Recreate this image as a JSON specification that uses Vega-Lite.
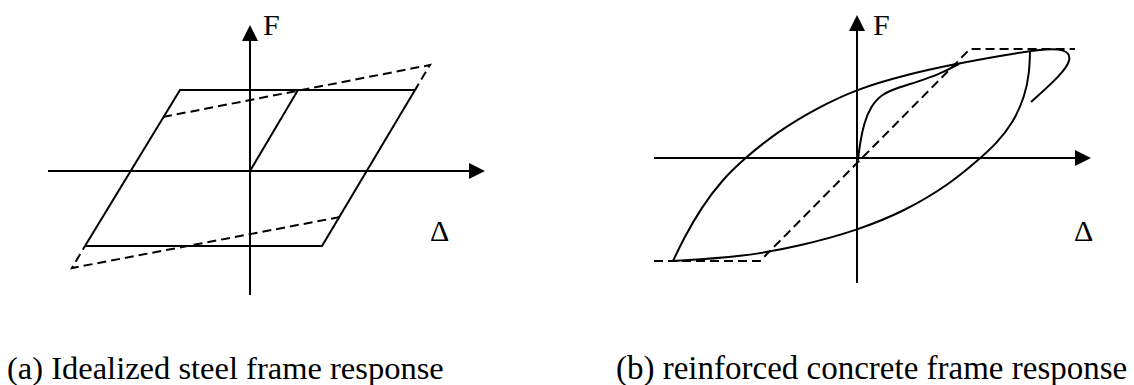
{
  "$schema": "https://vega.github.io/schema/vega-lite/v6.json",
  "background": "white",
  "padding": {"left": 5, "top": 10, "right": 0, "bottom": 0},
  "spacing": 121,
  "config": {
    "view": {"stroke": null},
    "title": {"font": "Liberation Serif", "fontSize": 33, "fontWeight": "normal", "color": "black", "orient": "bottom", "anchor": "start", "baseline": "top", "offset": 51}
  },
  "datasets": {
    "steel": [
      {"part": "axisX", "style": "solid", "i": 0, "d": -20.2, "f": 0},
      {"part": "axisX", "style": "solid", "i": 1, "d": 23.0, "f": 0},
      {"part": "axisY", "style": "solid", "i": 0, "d": 0, "f": -12.4},
      {"part": "axisY", "style": "solid", "i": 1, "d": 0, "f": 14.0},
      {"part": "loop", "style": "solid", "i": 0, "d": -16.5, "f": -7.5},
      {"part": "loop", "style": "solid", "i": 1, "d": -7.0, "f": 8.1},
      {"part": "loop", "style": "solid", "i": 2, "d": 16.5, "f": 8.1},
      {"part": "loop", "style": "solid", "i": 3, "d": 7.2, "f": -7.5},
      {"part": "loop", "style": "solid", "i": 4, "d": -16.5, "f": -7.5},
      {"part": "initial", "style": "solid", "i": 0, "d": 0, "f": 0},
      {"part": "initial", "style": "solid", "i": 1, "d": 4.8, "f": 8.1},
      {"part": "upper", "style": "dashed", "i": 0, "d": -8.7, "f": 5.4},
      {"part": "upper", "style": "dashed", "i": 1, "d": 18.0, "f": 10.6},
      {"part": "upper", "style": "dashed", "i": 2, "d": 16.5, "f": 8.1},
      {"part": "lower", "style": "dashed", "i": 0, "d": 9.0, "f": -4.6},
      {"part": "lower", "style": "dashed", "i": 1, "d": -17.8, "f": -9.7},
      {"part": "lower", "style": "dashed", "i": 2, "d": -16.5, "f": -7.5}
    ],
    "concrete": [
      {"part": "axisX", "shape": "straight", "style": "solid", "i": 0, "d": -20.3, "f": 0},
      {"part": "axisX", "shape": "straight", "style": "solid", "i": 1, "d": 22.8, "f": 0},
      {"part": "axisY", "shape": "straight", "style": "solid", "i": 0, "d": 0, "f": -12.5},
      {"part": "axisY", "shape": "straight", "style": "solid", "i": 1, "d": 0, "f": 13.8},
      {"part": "bilinear", "shape": "straight", "style": "dashed", "i": 0, "d": -20.3, "f": -10.3},
      {"part": "bilinear", "shape": "straight", "style": "dashed", "i": 1, "d": -9.7, "f": -10.3},
      {"part": "bilinear", "shape": "straight", "style": "dashed", "i": 2, "d": 11.3, "f": 10.9},
      {"part": "bilinear", "shape": "straight", "style": "dashed", "i": 3, "d": 21.8, "f": 10.9},
      {"part": "virgin", "shape": "curve", "style": "solid", "i": 0, "d": 0.1, "f": -0.2},
      {"part": "virgin", "shape": "curve", "style": "solid", "i": 1, "d": 0.3, "f": 1.5},
      {"part": "virgin", "shape": "curve", "style": "solid", "i": 2, "d": 0.7, "f": 3.5},
      {"part": "virgin", "shape": "curve", "style": "solid", "i": 3, "d": 1.4, "f": 5.2},
      {"part": "virgin", "shape": "curve", "style": "solid", "i": 4, "d": 2.5, "f": 6.4},
      {"part": "virgin", "shape": "curve", "style": "solid", "i": 5, "d": 4.0, "f": 7.0},
      {"part": "virgin", "shape": "curve", "style": "solid", "i": 6, "d": 6.0, "f": 7.6},
      {"part": "virgin", "shape": "curve", "style": "solid", "i": 7, "d": 8.3, "f": 8.4},
      {"part": "virgin", "shape": "curve", "style": "solid", "i": 8, "d": 10.2, "f": 9.4},
      {"part": "loading", "shape": "curve", "style": "solid", "i": 0, "d": -18.4, "f": -10.3},
      {"part": "loading", "shape": "curve", "style": "solid", "i": 1, "d": -17.3, "f": -8.0},
      {"part": "loading", "shape": "curve", "style": "solid", "i": 2, "d": -15.6, "f": -5.0},
      {"part": "loading", "shape": "curve", "style": "solid", "i": 3, "d": -13.5, "f": -2.2},
      {"part": "loading", "shape": "curve", "style": "solid", "i": 4, "d": -11.2, "f": 0.0},
      {"part": "loading", "shape": "curve", "style": "solid", "i": 5, "d": -8.0, "f": 2.6},
      {"part": "loading", "shape": "curve", "style": "solid", "i": 6, "d": -4.0, "f": 5.0},
      {"part": "loading", "shape": "curve", "style": "solid", "i": 7, "d": 0, "f": 6.9},
      {"part": "loading", "shape": "curve", "style": "solid", "i": 8, "d": 4.8, "f": 8.3},
      {"part": "loading", "shape": "curve", "style": "solid", "i": 9, "d": 9.8, "f": 9.4},
      {"part": "loading", "shape": "curve", "style": "solid", "i": 10, "d": 14.8, "f": 10.3},
      {"part": "loading", "shape": "curve", "style": "solid", "i": 11, "d": 18.5, "f": 10.9},
      {"part": "loading", "shape": "curve", "style": "solid", "i": 12, "d": 20.9, "f": 10.9},
      {"part": "loading", "shape": "curve", "style": "solid", "i": 13, "d": 21.5, "f": 9.9},
      {"part": "loading", "shape": "curve", "style": "solid", "i": 14, "d": 20.4, "f": 8.3},
      {"part": "loading", "shape": "curve", "style": "solid", "i": 15, "d": 17.4, "f": 5.6},
      {"part": "unloading", "shape": "curve", "style": "solid", "i": 0, "d": 17.3, "f": 10.7},
      {"part": "unloading", "shape": "curve", "style": "solid", "i": 1, "d": 17.25, "f": 8.6},
      {"part": "unloading", "shape": "curve", "style": "solid", "i": 2, "d": 16.8, "f": 6.2},
      {"part": "unloading", "shape": "curve", "style": "solid", "i": 3, "d": 15.6, "f": 3.5},
      {"part": "unloading", "shape": "curve", "style": "solid", "i": 4, "d": 13.9, "f": 1.4},
      {"part": "unloading", "shape": "curve", "style": "solid", "i": 5, "d": 12.3, "f": -0.05},
      {"part": "unloading", "shape": "curve", "style": "solid", "i": 6, "d": 9.3, "f": -2.6},
      {"part": "unloading", "shape": "curve", "style": "solid", "i": 7, "d": 4.8, "f": -5.3},
      {"part": "unloading", "shape": "curve", "style": "solid", "i": 8, "d": 0, "f": -7.25},
      {"part": "unloading", "shape": "curve", "style": "solid", "i": 9, "d": -5.7, "f": -8.8},
      {"part": "unloading", "shape": "curve", "style": "solid", "i": 10, "d": -11.5, "f": -9.9},
      {"part": "unloading", "shape": "curve", "style": "solid", "i": 11, "d": -18.4, "f": -10.3}
    ],
    "arrows": [
      {"panel": "a", "d": 23.5, "f": 0, "angle": 0},
      {"panel": "a", "d": 0, "f": 14.6, "angle": -90},
      {"panel": "b", "d": 23.4, "f": 0, "angle": 0},
      {"panel": "b", "d": 0, "f": 14.3, "angle": -90}
    ],
    "labels": [
      {"panel": "a", "text": "F", "d": 1.3, "f": 13.6},
      {"panel": "a", "text": "Δ", "d": 18.0, "f": -7.0},
      {"panel": "b", "text": "F", "d": 1.6, "f": 12.3},
      {"panel": "b", "text": "Δ", "d": 21.7, "f": -8.3}
    ]
  },
  "hconcat": [
    {
      "width": 490,
      "height": 290,
      "title": {"text": "(a) Idealized steel frame response", "fontSize": 32.5, "dx": 2},
      "layer": [
        {
          "data": {"name": "steel"},
          "mark": {"type": "line", "color": "black", "strokeWidth": 2},
          "encoding": {
            "x": {"field": "d", "type": "quantitative", "scale": {"domain": [-24.5, 24.5], "nice": false, "zero": false}, "axis": null},
            "y": {"field": "f", "type": "quantitative", "scale": {"domain": [-13.1, 15.9], "nice": false, "zero": false}, "axis": null},
            "detail": {"field": "part"},
            "order": {"field": "i", "type": "quantitative"},
            "strokeDash": {"field": "style", "type": "nominal", "scale": {"domain": ["solid", "dashed"], "range": [[1, 0], [9, 5]]}, "legend": null}
          }
        },
        {
          "data": {"name": "arrows"},
          "transform": [{"filter": "datum.panel === 'a'"}],
          "mark": {"type": "point", "shape": "M0,0L-2,-1L-2,1Z", "filled": true, "color": "black", "size": 256, "opacity": 1, "strokeWidth": 0},
          "encoding": {
            "x": {"field": "d", "type": "quantitative"},
            "y": {"field": "f", "type": "quantitative"},
            "angle": {"field": "angle", "type": "quantitative", "scale": null}
          }
        },
        {
          "data": {"name": "labels"},
          "transform": [{"filter": "datum.panel === 'a'"}],
          "mark": {"type": "text", "font": "Liberation Serif", "fontSize": 30, "align": "left", "baseline": "alphabetic", "color": "black"},
          "encoding": {
            "x": {"field": "d", "type": "quantitative"},
            "y": {"field": "f", "type": "quantitative"},
            "text": {"field": "text"}
          }
        }
      ]
    },
    {
      "width": 510,
      "height": 290,
      "title": {"text": "(b) reinforced concrete frame response"},
      "layer": [
        {
          "data": {"name": "concrete"},
          "transform": [{"filter": "datum.shape === 'straight'"}],
          "mark": {"type": "line", "color": "black", "strokeWidth": 2},
          "encoding": {
            "x": {"field": "d", "type": "quantitative", "scale": {"domain": [-24.1, 26.9], "nice": false, "zero": false}, "axis": null},
            "y": {"field": "f", "type": "quantitative", "scale": {"domain": [-14.4, 14.6], "nice": false, "zero": false}, "axis": null},
            "detail": {"field": "part"},
            "order": {"field": "i", "type": "quantitative"},
            "strokeDash": {"field": "style", "type": "nominal", "scale": {"domain": ["solid", "dashed"], "range": [[1, 0], [8, 5]]}, "legend": null}
          }
        },
        {
          "data": {"name": "concrete"},
          "transform": [{"filter": "datum.shape === 'curve'"}],
          "mark": {"type": "line", "color": "black", "strokeWidth": 2, "interpolate": "basis"},
          "encoding": {
            "x": {"field": "d", "type": "quantitative"},
            "y": {"field": "f", "type": "quantitative"},
            "detail": {"field": "part"},
            "order": {"field": "i", "type": "quantitative"}
          }
        },
        {
          "data": {"name": "arrows"},
          "transform": [{"filter": "datum.panel === 'b'"}],
          "mark": {"type": "point", "shape": "M0,0L-2,-1L-2,1Z", "filled": true, "color": "black", "size": 256, "opacity": 1, "strokeWidth": 0},
          "encoding": {
            "x": {"field": "d", "type": "quantitative"},
            "y": {"field": "f", "type": "quantitative"},
            "angle": {"field": "angle", "type": "quantitative", "scale": null}
          }
        },
        {
          "data": {"name": "labels"},
          "transform": [{"filter": "datum.panel === 'b'"}],
          "mark": {"type": "text", "font": "Liberation Serif", "fontSize": 30, "align": "left", "baseline": "alphabetic", "color": "black"},
          "encoding": {
            "x": {"field": "d", "type": "quantitative"},
            "y": {"field": "f", "type": "quantitative"},
            "text": {"field": "text"}
          }
        }
      ]
    }
  ]
}
